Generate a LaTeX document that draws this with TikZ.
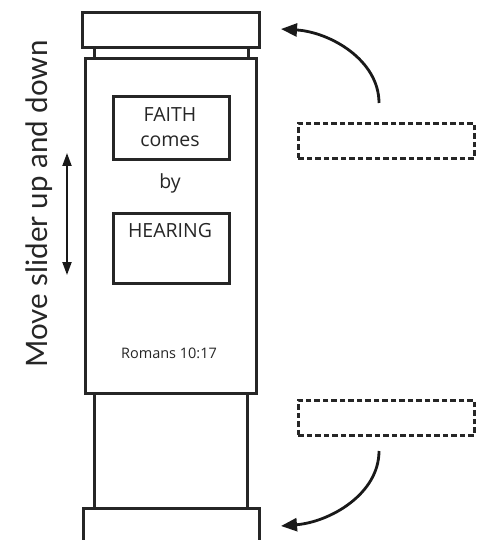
\documentclass[tikz,border=0pt]{standalone}
\usepackage{fontspec}
\setmainfont{Lato}
\newfontfamily\boxfont{Open Sans}
\usetikzlibrary{arrows.meta}
\begin{document}
\begin{tikzpicture}[x=1pt,y=-1pt,
  part/.style={draw=black!85, line width=2.8pt, rectangle, inner sep=0pt, anchor=north west},
  wordbox/.style={draw=black!85, line width=2.6pt, rectangle, inner sep=0pt, anchor=north west},
  dashbox/.style={draw=black!85, line width=2.8pt, dash pattern=on 5.5pt off 3pt, rectangle, inner sep=0pt, anchor=north west, minimum width=176pt, minimum height=35pt},
  curvearrow/.style={draw=black!90, line width=2.8pt, -{Triangle[length=16pt,width=13pt]}},
  dblarrow/.style={draw=black!90, line width=2pt, {Triangle[length=13pt,width=9pt]}-{Triangle[length=13pt,width=9pt]}},
  boxtext/.style={font=\boxfont\fontsize{19.5}{22}\selectfont, text=black!85},
]
\useasboundingbox (0,0) rectangle (482,540);
\clip (0,0) rectangle (482,540);
% top cap and neck
\node[part, minimum width=177pt, minimum height=35pt] (topcap) at (81,11) {};
\node[part, minimum width=154pt, minimum height=11pt] (neck) at (93,46) {};
% lower strip and bottom cap
\node[part, minimum width=153pt, minimum height=115pt] (strip) at (93,392) {};
\node[part, minimum width=176pt, minimum height=60pt] (botcap) at (82,507) {};
% slider
\node[part, fill=white, minimum width=171pt, minimum height=335pt] (slider) at (84,57) {};
% word boxes
\node[wordbox, minimum width=116pt, minimum height=63pt] (faithbox) at (112,95) {};
\node[boxtext] (faith) at (170,115) {FAITH};
\node[boxtext] (comes) at (170,141) {comes};
\node[boxtext] (by) at (170,183) {by};
\node[wordbox, minimum width=116pt, minimum height=70pt] (hearbox) at (112,212) {};
\node[boxtext] (hearing) at (170,231) {HEARING};
\node[font=\boxfont\fontsize{14.5}{17}\selectfont, text=black!85] (romans) at (169,353) {Romans 10:17};
% instruction
\node[rotate=90, font=\fontsize{29.5}{34}\selectfont, text=black!85] (move) at (39,204) {Move slider up and down};
\coordinate (dtop) at (67,153);
\coordinate (dbot) at (67,275);
\draw[dblarrow] (dtop) -- (dbot);
% dashed boxes and arrows
\node[dashbox] (dash1) at (297,122) {};
\node[dashbox] (dash2) at (297,399) {};
\coordinate (a1s) at (379,103);
\coordinate (a1e) at (281,29);
\coordinate (a2s) at (379,451);
\coordinate (a2e) at (281,526);
\draw[curvearrow] (a1s) .. controls (379,60) and (330,32) .. (a1e);
\draw[curvearrow] (a2s) .. controls (379,494) and (330,522) .. (a2e);
\end{tikzpicture}
\end{document}
